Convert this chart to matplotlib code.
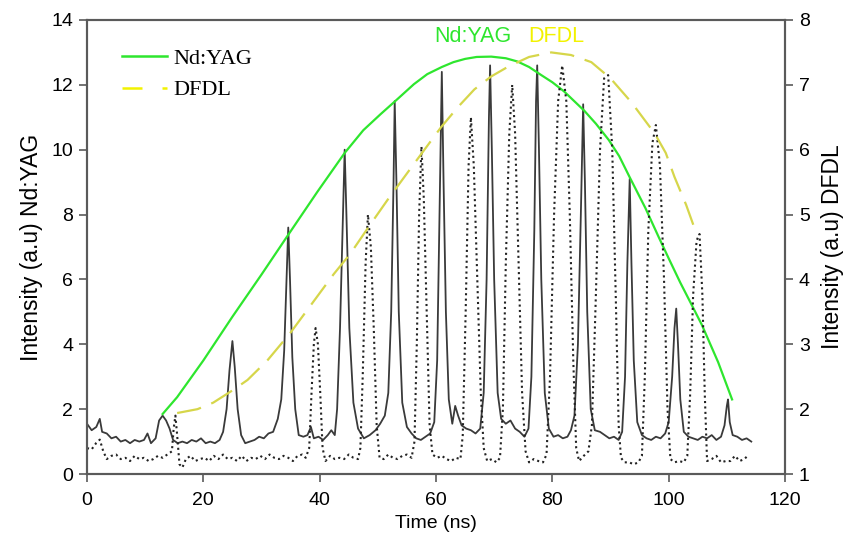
import matplotlib
matplotlib.use("Agg")
import matplotlib.pyplot as plt
from matplotlib.lines import Line2D

plt.rcParams.update({
    "font.family": ["Liberation Sans", "DejaVu Sans"],
    "font.size": 14,
    "axes.linewidth": 1.5,
})

# Nd:YAG pulse train (left axis)
ndyag_t = [0.0, 0.8, 1.6, 2.2, 2.6, 3.4, 4.2, 5.0, 5.8, 6.6, 7.4, 8.2, 9.0, 9.8, 10.4, 11.0,
           11.8, 12.4, 13.0, 13.6, 14.2, 14.8, 15.6, 16.4, 17.2, 18.0, 18.8, 19.6, 20.4, 21.2,
           22.0, 22.8, 23.4, 24.0, 24.5, 25.0, 25.4, 25.9, 26.5, 27.2, 28.0, 28.8, 29.6, 30.4,
           31.2, 32.0, 32.8, 33.4, 33.9, 34.3, 34.6, 34.9, 35.3, 35.8, 36.4, 37.2, 37.9, 38.5,
           39.0, 39.8, 40.6, 41.4, 42.0, 42.6, 43.0, 43.5, 44.0, 44.3, 44.6, 45.1, 45.8, 46.6,
           47.6, 48.6, 49.6, 50.4, 51.2, 51.8, 52.3, 52.7, 52.9, 53.2, 53.6, 54.2, 55.0, 55.8,
           56.6, 57.4, 58.2, 59.0, 59.7, 60.2, 60.6, 61.0, 61.3, 61.7, 62.2, 62.8, 63.3, 63.8,
           64.4, 65.2, 66.0, 66.8, 67.6, 68.2, 68.7, 69.1, 69.3, 69.6, 70.0, 70.6, 71.2, 72.0,
           72.8, 73.6, 74.4, 75.2, 75.9, 76.4, 76.9, 77.2, 77.4, 77.7, 78.1, 78.7, 79.4, 80.2,
           81.0, 81.8, 82.6, 83.2, 83.8, 84.4, 84.9, 85.3, 85.6, 86.0, 86.6, 87.3, 88.2, 89.0,
           89.8, 90.6, 91.4, 92.0, 92.5, 92.9, 93.3, 93.6, 94.0, 94.6, 95.4, 96.2, 97.0, 97.8,
           98.6, 99.4, 100.0, 100.6, 101.0, 101.3, 101.6, 102.0, 102.6, 103.4, 104.2, 105.0,
           105.8, 106.6, 107.4, 108.2, 109.0, 109.6, 110.0, 110.2, 110.5, 111.0, 111.8, 112.6,
           113.4, 114.2]
ndyag_i = [1.55, 1.35, 1.45, 1.70, 1.30, 1.25, 1.10, 1.15, 1.00, 1.05, 0.95, 1.05, 1.00, 1.05, 1.25, 0.95,
           1.10, 1.65, 1.80, 1.65, 1.40, 1.05, 0.95, 1.00, 0.95, 1.05, 1.00, 1.10, 0.95, 1.00,
           0.95, 1.05, 1.30, 2.00, 3.20, 4.10, 3.30, 2.00, 1.20, 0.95, 1.00, 1.05, 1.15, 1.10,
           1.25, 1.30, 1.70, 2.30, 3.80, 6.00, 7.60, 6.00, 3.60, 2.00, 1.20, 1.15, 1.20, 1.45,
           1.10, 1.15, 1.05, 1.20, 1.35, 1.20, 2.00, 4.50, 8.00, 10.00, 8.00, 4.50, 2.20, 1.40,
           1.10, 1.20, 1.35, 1.55, 1.80, 2.50, 5.00, 9.00, 11.50, 9.00, 5.00, 2.20, 1.45, 1.25,
           1.10, 1.05, 1.15, 1.25, 1.60, 3.50, 8.00, 12.40, 9.00, 5.00, 2.30, 1.55, 2.10, 1.80,
           1.50, 1.40, 1.35, 1.25, 1.40, 2.50, 6.00, 11.00, 12.60, 10.00, 6.00, 2.50, 1.70, 1.55,
           1.65, 1.40, 1.30, 1.15, 1.40, 3.00, 7.50, 11.50, 12.60, 10.00, 6.00, 2.50, 1.40, 1.15,
           1.20, 1.10, 1.15, 1.35, 1.80, 4.00, 8.00, 11.40, 9.00, 5.00, 2.00, 1.35, 1.30, 1.20,
           1.10, 1.15, 1.05, 1.30, 3.00, 6.50, 9.10, 6.50, 3.50, 1.60, 1.20, 1.10, 1.05, 1.15,
           1.10, 1.25, 1.60, 3.00, 4.50, 5.10, 4.00, 2.30, 1.30, 1.15, 1.10, 1.05,
           1.15, 1.10, 1.20, 1.05, 1.15, 1.50, 2.10, 2.30, 1.60, 1.20, 1.15, 1.05,
           1.10, 1.00]

# DFDL pulse train (right axis)
dfdl_t = [0.0, 0.8, 1.6, 2.2, 2.8, 3.4, 4.2, 5.0, 5.8, 6.6, 7.4, 8.2, 9.0, 9.8, 10.6, 11.4,
          12.2, 13.0, 13.8, 14.6, 14.9, 15.2, 15.5, 15.9, 16.4, 17.0, 17.8, 18.6, 19.4, 20.2,
          21.0, 21.8, 22.6, 23.4, 24.2, 25.0, 25.8, 26.6, 27.4, 28.2, 29.0, 29.8, 30.6, 31.4,
          32.2, 33.0, 33.8, 34.6, 35.4, 36.2, 37.0, 37.6, 38.2, 38.6, 39.0, 39.3, 39.7, 40.1,
          40.5, 41.0, 41.8, 42.6, 43.4, 44.2, 45.0, 45.8, 46.6, 47.0, 47.4, 47.9, 48.3, 48.8,
          49.3, 49.8, 50.3, 51.0, 51.8, 52.6, 53.4, 54.2, 55.0, 55.8, 56.3, 56.7, 57.1, 57.5,
          57.9, 58.4, 58.9, 59.4, 60.2, 61.0, 61.8, 62.6, 63.4, 64.2, 64.6, 65.1, 65.6, 66.0,
          66.5, 67.1, 67.7, 68.2, 68.8, 69.6, 70.4, 71.0, 71.5, 72.0, 72.6, 73.1, 73.6, 74.2,
          74.8, 75.4, 76.0, 76.8, 77.6, 78.4, 79.0, 79.6, 80.3, 81.0, 81.7, 82.4, 83.0, 83.6,
          84.1, 84.6, 85.4, 86.2, 86.8, 87.4, 88.2, 88.9, 89.6, 90.3, 90.9, 91.4, 91.8, 92.4,
          93.2, 94.0, 94.8, 95.4, 95.9, 96.5, 97.2, 97.8, 98.5, 99.2, 99.8, 100.3, 101.0, 101.8,
          102.6, 103.2, 103.7, 104.2, 104.8, 105.3, 105.8, 106.2, 106.6, 107.4, 108.2, 109.0,
          109.8, 110.6, 111.4, 112.2, 113.0, 113.8]
dfdl_i = [1.40, 1.38, 1.48, 1.53, 1.35, 1.23, 1.28, 1.30, 1.23, 1.25, 1.20, 1.28, 1.23, 1.25, 1.20, 1.23,
          1.28, 1.25, 1.30, 1.35, 1.70, 1.90, 1.60, 1.15, 1.10, 1.23, 1.28, 1.20, 1.23, 1.25,
          1.20, 1.28, 1.23, 1.30, 1.23, 1.25, 1.20, 1.28, 1.20, 1.25, 1.23, 1.28, 1.23, 1.30,
          1.25, 1.23, 1.28, 1.25, 1.20, 1.28, 1.30, 1.25, 1.40, 2.25, 3.00, 3.25, 3.00, 2.25,
          1.40, 1.20, 1.28, 1.23, 1.25, 1.23, 1.30, 1.25, 1.23, 1.40, 2.50, 4.25, 5.00, 4.50,
          3.25, 1.75, 1.25, 1.23, 1.30, 1.25, 1.23, 1.28, 1.30, 1.25, 1.50, 3.00, 5.00, 6.05,
          5.25, 3.50, 1.75, 1.30, 1.25, 1.28, 1.23, 1.20, 1.25, 1.23, 1.60, 3.50, 5.75, 6.50,
          5.75, 4.00, 2.25, 1.40, 1.20, 1.23, 1.18, 1.25, 2.00, 4.25, 6.25, 7.00, 6.25, 4.25,
          2.25, 1.35, 1.18, 1.23, 1.20, 1.18, 1.30, 2.50, 5.00, 6.75, 7.30, 6.75, 5.00, 2.75,
          1.40, 1.20, 1.28, 1.35, 1.75, 3.50, 6.00, 7.10, 7.15, 6.00, 3.75, 1.75, 1.25, 1.18,
          1.18, 1.15, 1.18, 1.28, 2.50, 4.75, 6.10, 6.38, 5.75, 4.00, 2.00, 1.23, 1.18, 1.20,
          1.18, 1.28, 2.25, 3.75, 4.60, 4.70, 3.75, 2.25, 1.20, 1.23, 1.28, 1.18,
          1.20, 1.20, 1.28, 1.20, 1.23, 1.30]

# envelopes (traced points along the drawn curves)
env_ndyag_t = [13.0, 15.5, 20.0, 25.0, 30.0, 34.5, 39.6, 44.3, 47.5, 50.5, 53.0, 56.2, 58.5,
               61.0, 63.0, 65.0, 67.0, 69.5, 72.0, 74.0, 76.0, 78.1, 80.0, 82.0, 85.5, 87.5,
               89.7, 91.5, 93.3, 96.0, 98.3, 100.0, 102.0, 104.0, 105.7, 108.5, 110.9]
env_ndyag_i = [1.85, 2.37, 3.50, 4.85, 6.15, 7.35, 8.70, 9.90, 10.60, 11.10, 11.50, 12.02, 12.33,
               12.55, 12.70, 12.80, 12.86, 12.87, 12.82, 12.72, 12.55, 12.30, 12.08, 11.80, 11.20, 10.80,
               10.30, 9.80, 9.15, 8.20, 7.30, 6.65, 5.90, 5.20, 4.60, 3.45, 2.30]
env_dfdl_t = [15.5, 19.0, 21.7, 25.2, 27.6, 31.0, 35.0, 38.7, 42.4, 45.3, 48.5, 51.7, 56.2,
              60.9, 63.8, 66.6, 69.5, 72.4, 76.0, 79.8, 83.2, 86.7, 90.0, 93.6, 97.6, 99.5,
              101.0, 103.0, 104.8]
env_dfdl_i = [1.94, 2.00, 2.10, 2.30, 2.45, 2.75, 3.18, 3.63, 4.08, 4.40, 4.82, 5.23, 5.78,
              6.35, 6.66, 6.93, 7.13, 7.28, 7.43, 7.50, 7.46, 7.35, 7.10, 6.73, 6.25, 5.95,
              5.58, 5.15, 4.70]

GREEN = "#2ee62e"
YELLOW_LINE = "#d6d64a"
YELLOW_TEXT = "#f2f200"
SPINE = "#5a5a5a"

fig = plt.figure(figsize=(8.57, 5.37), dpi=100)
ax = fig.add_axes([0.1015, 0.1173, 0.8145, 0.8455])
ax2 = ax.twinx()

ax.plot(ndyag_t, ndyag_i, color="#3a3a3a", lw=1.3)
ax2.plot(dfdl_t, dfdl_i, color="#222222", lw=1.5, linestyle=(0, (1, 1.6)))
ax.plot(env_ndyag_t, env_ndyag_i, color=GREEN, lw=1.6)
ax2.plot(env_dfdl_t, env_dfdl_i, color=YELLOW_LINE, lw=1.6, dashes=(11, 5))

ax.set_xlim(0, 120)
ax.set_ylim(0, 14)
ax2.set_ylim(1, 8)
ax.set_xticks(range(0, 121, 20))
ax.set_yticks(range(0, 15, 2))
ax2.set_yticks(range(1, 9))

for a in (ax, ax2):
    for sp in a.spines.values():
        sp.set_color(SPINE)
        sp.set_linewidth(1.5)
    a.tick_params(direction="out", length=6, width=1.2, color=SPINE, labelsize=14, pad=4)
ax.tick_params(axis="x", pad=7)

ax.set_xlabel("Time (ns)", fontsize=14, labelpad=4)
ax.set_ylabel("Intensity (a.u) Nd:YAG", fontsize=16.5, labelpad=6)
ax2.set_ylabel("Intensity (a.u) DFDL", fontsize=16.5, labelpad=8)

ax.text(66.4, 13.5, "Nd:YAG", color=GREEN, fontsize=15.5, ha="center", va="center")
ax.text(75.9, 13.5, "DFDL", color=YELLOW_TEXT, fontsize=15.5, ha="left", va="center")

handles = [Line2D([], [], color=GREEN, lw=1.8),
           Line2D([], [], color=YELLOW_TEXT, lw=1.8, dashes=(8, 8))]
ax.legend(handles, ["Nd:YAG", "DFDL"], loc="upper left", bbox_to_anchor=(0.022, 0.982),
          frameon=False, prop={"family": "Liberation Serif", "size": 16},
          handlelength=2.0, handletextpad=0.3, labelspacing=0.5)

fig.savefig("out.png", dpi=100)
